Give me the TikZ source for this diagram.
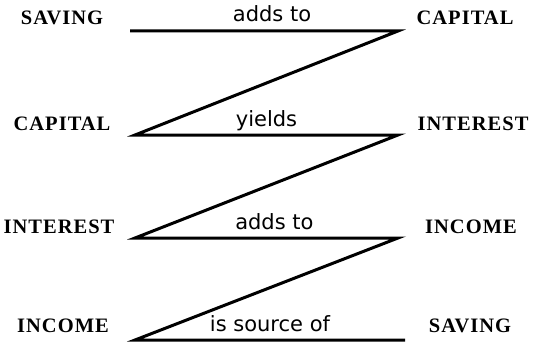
\documentclass[tikz,border=0pt]{standalone}
\usepackage{fontspec}
\usepackage{tikz}
\newfontfamily\termfont[LetterSpace=5]{Liberation Serif}
\newfontfamily\linkfont{DejaVu Sans}

\begin{document}
\begin{tikzpicture}[x=1pt, y=-1pt,
  term/.style={font=\termfont\bfseries\fontsize{20.5}{24}\selectfont, anchor=base, inner sep=0pt},
  link/.style={font=\linkfont\fontsize{21}{24}\selectfont, anchor=base, inner sep=0pt, yshift=9pt},
  zigzag/.style={line width=3pt}]
  \useasboundingbox (0,0) rectangle (534,345);
  % left column
  \node[term] (savingL) at (62,25) {SAVING};
  \node[term] (capitalL) at (62,130) {CAPITAL};
  \node[term] (interestL) at (59,233) {INTEREST};
  \node[term] (incomeL) at (63,332) {INCOME};
  % right column
  \node[term] (capitalR) at (465,25) {CAPITAL};
  \node[term] (interestR) at (473,130) {INTEREST};
  \node[term] (incomeR) at (471,233) {INCOME};
  \node[term] (savingR) at (470,332) {SAVING};
  % corners of the zigzag
  \coordinate (s0) at (130,31);
  \coordinate (s1) at (398,31);
  \coordinate (c0) at (135,135);
  \coordinate (c1) at (398,135);
  \coordinate (i0) at (135,238);
  \coordinate (i1) at (398,238);
  \coordinate (n0) at (135,340);
  \coordinate (n1) at (405,340);
  \draw[zigzag] (s0) -- node[link, pos=.53]{adds to} (s1) -- (c0)
    -- node[link]{yields} (c1) -- (i0)
    -- node[link, pos=.53]{adds to} (i1) -- (n0)
    -- node[link]{is source of} (n1);
\end{tikzpicture}
\end{document}
